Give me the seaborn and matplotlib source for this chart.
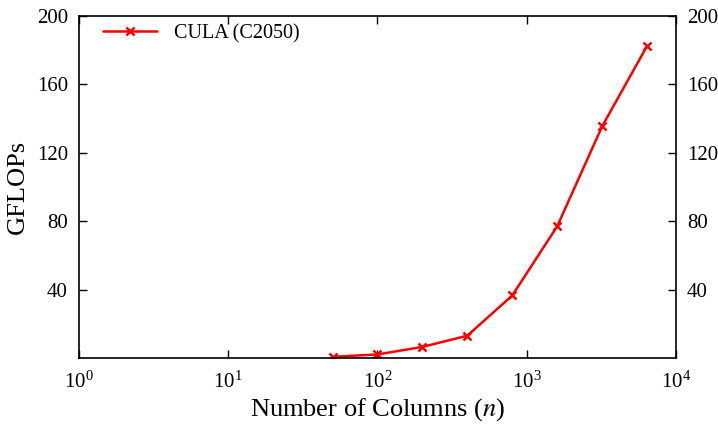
import matplotlib
matplotlib.use("Agg")
import matplotlib.pyplot as plt
import seaborn as sns
import pandas as pd

# matrix columns vs achieved GFLOPs
columns = [50, 100, 200, 400, 800, 1600, 3200, 6400]
gflops = [0.6, 2.0, 6.4, 13.0, 36.5, 77.0, 135.5, 182.5]
series_name = "CULA (C2050)"
y_ticks = [40, 80, 120, 160, 200]

sns.set_style("ticks")
plt.rcParams['font.family'] = ['Liberation Serif', 'DejaVu Serif']
plt.rcParams['mathtext.fontset'] = 'stix'
plt.rcParams['text.color'] = 'black'
plt.rcParams['axes.labelcolor'] = 'black'
plt.rcParams['xtick.color'] = 'black'
plt.rcParams['ytick.color'] = 'black'

df = pd.DataFrame({"n": columns, "gflops": gflops, "name": series_name})

fig = plt.figure(figsize=(7.18, 4.24), dpi=100)
ax = fig.add_axes([0.110, 0.156, 0.8315, 0.806])

sns.lineplot(data=df, x="n", y="gflops", ax=ax, color="red", marker="x",
             markersize=6, markeredgewidth=1.8, markeredgecolor="red",
             linewidth=1.8, label=series_name)

ax.set_xscale("log")
ax.set_xlim(1, 1e4)
ax.set_ylim(0, 200)
ax.set_yticks(y_ticks)
ax.set_xticks([1, 10, 100, 1000, 10000])
ax.minorticks_off()
ax.tick_params(axis="both", which="both", direction="in", length=6, width=1,
               labelsize=15, top=True, right=True, labelright=True, pad=8)
ax.tick_params(axis="x", pad=10)
for s in ax.spines.values():
    s.set_linewidth(1.2)
    s.set_color("black")

ax.set_xlabel("Number of Columns ($n$)", fontsize=19, labelpad=2)
ax.set_ylabel("GFLOPs", fontsize=19, labelpad=6)

leg = ax.legend(loc="upper left", frameon=False, fontsize=14.5,
                handlelength=2.7, handletextpad=0.8,
                bbox_to_anchor=(0.01, 1.03))

fig.savefig("out.png", dpi=100)
